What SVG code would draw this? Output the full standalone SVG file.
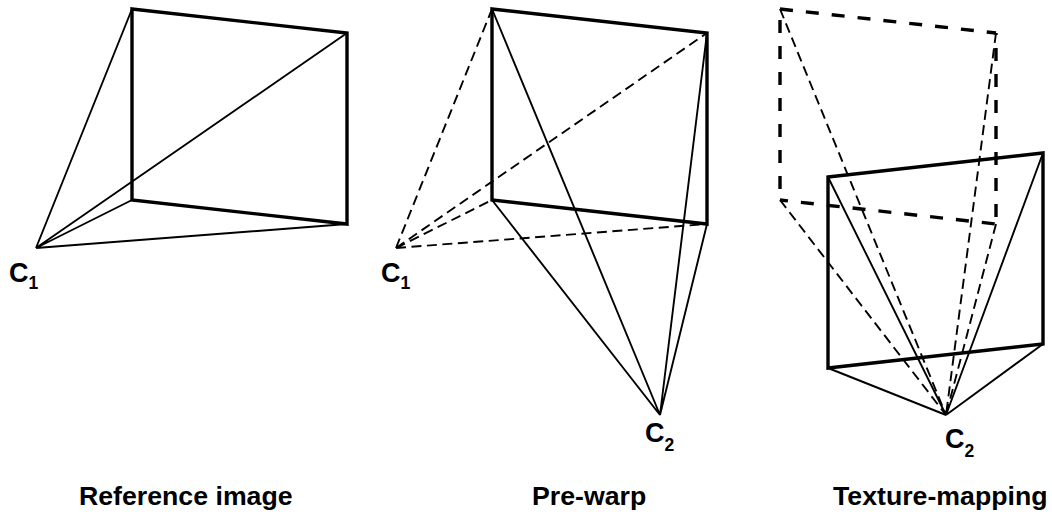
<svg xmlns="http://www.w3.org/2000/svg" width="1052" height="515" viewBox="0 0 1052 515">
<style>
.t{fill:none;stroke:#000;stroke-width:1.9}
.b{fill:none;stroke:#000;stroke-width:3.4}
.d{fill:none;stroke:#000;stroke-width:1.9;stroke-dasharray:10 5.5}
.bd{fill:none;stroke:#000;stroke-width:3.4;stroke-dasharray:13 13}
text{font-family:"Liberation Sans",Arial,sans-serif;font-weight:bold;fill:#000}
.l{font-size:26.7px}
.c{font-size:27px}
.s{font-size:17.500px}
</style>
<rect width="1052" height="515" fill="#fff"/>
<g id="connectors">
<path class="t" d="M36 248L132 9M36 248L347 33M36 248L132 200M36 248L347 224"/>
<path class="b" d="M132 9L347 33L347 224L132 200Z"/>
<path class="d" d="M396 248L492 9M396 248L707 33M396 248L492 200M396 248L707 224"/>
<path class="b" d="M492 9L707 33L707 224L492 200Z"/>
<path class="t" d="M660 415L492 9M660 415L707 33M660 415L492 200M660 415L707 224"/>
<path class="bd" d="M780 9L996 33"/>
<path class="bd" stroke-dashoffset="15" d="M780 9L780 200"/>
<path class="bd" stroke-dashoffset="11" d="M996 33L996 224"/>
<path class="bd" stroke-dashoffset="5" d="M780 200L996 224"/>
<path class="d" d="M780 9L946 415M996 33L946 415M780 200L946 415M996 224L946 415"/>
<path class="b" d="M828 177L1043 153L1043 344L828 368Z"/>
<path class="t" d="M946 415L828 177M946 415L1043 153M946 415L828 368M946 415L1043 344"/>
</g>
<g id="labels">
<text class="c" x="9" y="281.500">C<tspan class="s" dy="7.500">1</tspan></text>
<text class="c" x="381" y="281.500">C<tspan class="s" dy="7.500">1</tspan></text>
<text class="c" x="645" y="441.500">C<tspan class="s" dy="9">2</tspan></text>
<text class="c" x="945" y="448">C<tspan class="s" dy="9">2</tspan></text>
<text class="l" x="79" y="505">Reference image</text>
<text class="l" x="532" y="505">Pre-warp</text>
<text class="l" x="833" y="505">Texture-mapping</text>
</g>
</svg>
